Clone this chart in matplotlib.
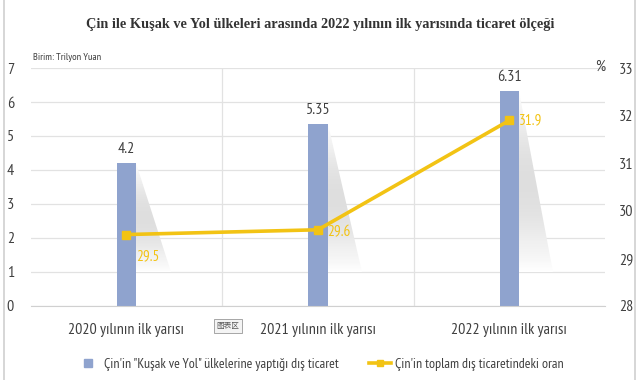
import matplotlib

matplotlib.use("Agg")
import matplotlib.pyplot as plt
import numpy as np
from matplotlib.patches import Polygon, Rectangle
from matplotlib.lines import Line2D

categories = ["2020 yılının ilk yarısı", "2021 yılının ilk yarısı", "2022 yılının ilk yarısı"]
trade = [4.2, 5.35, 6.31]          # trilyon yuan
share = [29.5, 29.6, 31.9]         # %
bar_name = "Çin'in \"Kuşak ve Yol\" ülkelerine yaptığı dış ticaret"
line_name = "Çin'in toplam dış ticaretindeki oran"
title = "Çin ile Kuşak ve Yol ülkeleri arasında 2022 yılının ilk yarısında ticaret ölçeği"

BAR_C = "#8FA3CE"
LINE_C = "#F2C314"
TXT_C = "#404040"
SANS = ["PT Sans Narrow", "Roboto Condensed", "DejaVu Sans"]

plt.rcParams["font.family"] = SANS

fig = plt.figure(figsize=(6.41, 3.8), dpi=100)
fig.patches.append(Rectangle((0.006, -0.01), 0.984, 1.02, transform=fig.transFigure,
                             fill=False, ec="#d0d0d0", lw=1.2))
ax = fig.add_axes([0.048, 0.195, 0.896, 0.626])
x = np.arange(len(categories))
ax.set_ylim(0, 7)
ax.set_yticks(range(8))
ax.grid(axis="y", color="#e2e2e2", lw=0.9)
ax.set_axisbelow(True)
for b in [0.5, 1.5]:
    ax.axvline(b, color="#e2e2e2", lw=0.9, zorder=0)
for s in ["top", "left", "right"]:
    ax.spines[s].set_visible(False)
ax.spines["bottom"].set_color("#d0d0d0")
ax.tick_params(axis="both", length=0, labelsize=11.5, colors=TXT_C)
ax.tick_params(axis="y", pad=12)
ax.set_xticks(x)
ax.set_xticklabels(categories, fontsize=11.5)
ax.tick_params(axis="x", pad=12)

w = 0.1
# soft shadows beside the bars
for xi, h in zip(x, trade):
    top = h
    grad = np.linspace(0.0, 1.0, 100).reshape(-1, 1)
    grad = np.sin(np.pi * grad) ** 0.8
    poly = Polygon([(xi + w / 2, top), (xi + w / 2, 1.0), (xi + w / 2 + 0.18, 1.0)],
                   closed=True, fc="none", ec="none")
    ax.add_patch(poly)
    im = ax.imshow(np.hstack([grad, grad]), cmap="Greys", vmin=0.0, vmax=4.5,
                   extent=(xi + w / 2, xi + w / 2 + 0.18, 1.0, top),
                   origin="upper", aspect="auto", zorder=1)
    im.set_clip_path(poly)
ax.set_xlim(-0.5, 2.5)
ax.set_ylim(0, 7)

ax.bar(x, trade, width=w, color=BAR_C, zorder=2)
for xi, h in zip(x, trade):
    ax.text(xi, h + 0.22, f"{h:g}", ha="center", va="bottom", fontsize=11.5, color=TXT_C)

ax2 = ax.twinx()
ax2.set_ylim(28, 33)
ax2.set_yticks(range(28, 34))
for s in ax2.spines.values():
    s.set_visible(False)
ax2.tick_params(axis="y", length=0, labelsize=11.5, colors=TXT_C, pad=10)
ax2.plot(x, share, color=LINE_C, lw=2.6, marker="s", ms=6, zorder=3)
offsets = [(0.05, -0.45), (0.05, -0.05), (0.05, 0.0)]
for xi, v, (dx, dy) in zip(x, share, offsets):
    ax2.text(xi + dx, v + dy, f"{v:g}", ha="left", va="center", fontsize=11, color=LINE_C)

fig.text(0.5, 0.935, title, ha="center", va="center", fontsize=10.3, fontweight="bold",
         family="Liberation Serif", color="#333333")
fig.text(0.052, 0.843, "Birim: Trilyon Yuan", fontsize=7.5, color=TXT_C)
fig.text(0.936, 0.815, "%", fontsize=11.5, color=TXT_C, ha="center")
fig.text(0.356, 0.142, "图表区", fontsize=5.5, family=["Noto Sans CJK SC"], color="#555555",
         ha="center", va="center",
         bbox=dict(boxstyle="square,pad=0.35", fc="#f4f4f4", ec="#999999", lw=0.6))

handles = [Line2D([], [], ls="none", marker="s", ms=6, mfc=BAR_C, mec=BAR_C),
           Line2D([], [], color=LINE_C, lw=2.6, marker="s", ms=5)]
fig.legend(handles, [bar_name, line_name], loc="center", bbox_to_anchor=(0.5, 0.04),
           ncol=2, frameon=False, fontsize=10, columnspacing=2.2, handlelength=1.6,
           handletextpad=0.3, labelcolor=TXT_C)

fig.savefig("out.png", dpi=100)
